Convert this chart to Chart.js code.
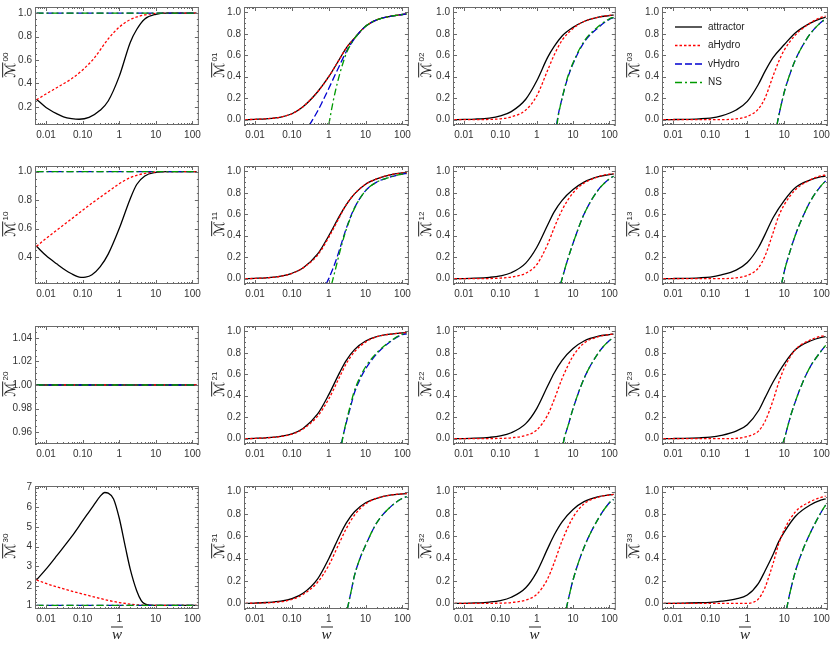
<!DOCTYPE html>
<html><head><meta charset="utf-8">
<script src="https://cdn.jsdelivr.net/npm/chart.js@4.4.1/dist/chart.umd.min.js"></script>
<style>
html,body{margin:0;padding:0;background:#fff}
#wrap{position:relative;width:830px;height:646px;overflow:hidden;background:#fff}
canvas{position:absolute}
.yl{position:absolute;white-space:nowrap;transform:translate(-50%,-50%) rotate(-90deg);font-family:'DejaVu Sans';font-size:14px;color:#222;line-height:1;z-index:5}
.yl .m{display:inline-block;border-top:1px solid #222;font-style:italic;line-height:1.05;padding-top:0}
.yl .s{font-family:'Liberation Sans';font-size:8px;vertical-align:7px;margin-left:1px}
.xl{position:absolute;transform:translate(-50%,-50%);font-family:'Liberation Serif';font-style:italic;font-size:15px;color:#222;z-index:5;line-height:1}
.xl span{display:inline-block;border-top:1px solid #222;padding:0 1px;line-height:0.8}
</style></head><body><div id="wrap"></div>
<script>
// ---------- tick labels ----------
const xTickValues = [0.01, 0.1, 1, 10, 100];
const xTickLabels = ['0.01', '0.10', '1', '10', '100'];
const unitTickValues = [0, 0.2, 0.4, 0.6, 0.8, 1.0];
const unitTickLabels = ['0.0', '0.2', '0.4', '0.6', '0.8', '1.0'];
const m00TickValues = [0.2, 0.4, 0.6, 0.8, 1.0];
const m00TickLabels = ['0.2', '0.4', '0.6', '0.8', '1.0'];
const m10TickValues = [0.4, 0.6, 0.8, 1.0];
const m10TickLabels = ['0.4', '0.6', '0.8', '1.0'];
const m20TickValues = [0.96, 0.98, 1.00, 1.02, 1.04];
const m20TickLabels = ['0.96', '0.98', '1.00', '1.02', '1.04'];
const m30TickValues = [1, 2, 3, 4, 5, 6, 7];
const m30TickLabels = ['1', '2', '3', '4', '5', '6', '7'];
const seriesNames = ['attractor', 'aHydro', 'vHydro', 'NS'];
const xLabel = 'w';

// ---------- data: [w, value] ----------
const flatOne = [[0.0055, 1], [130, 1]];

const M00_attractor = [[0.0055,0.265],[0.01,0.195],[0.02,0.14],[0.03,0.115],[0.05,0.10],[0.08,0.094],[0.15,0.11],[0.3,0.17],[0.5,0.25],[1,0.46],[2,0.75],[3,0.86],[5,0.95],[10,0.99],[20,1.0],[130,1.0]];
const M00_aHydro = [[0.0055,0.26],[0.01,0.31],[0.02,0.365],[0.05,0.44],[0.1,0.515],[0.2,0.61],[0.5,0.78],[1,0.88],[2,0.945],[3,0.967],[5,0.985],[10,0.997],[20,1.0],[130,1.0]];
const M00_vHydro = flatOne;
const M00_NS = flatOne;

const M10_attractor = [[0.0055,0.475],[0.01,0.41],[0.02,0.35],[0.035,0.305],[0.05,0.282],[0.07,0.263],[0.09,0.256],[0.12,0.258],[0.18,0.275],[0.3,0.33],[0.5,0.42],[1,0.60],[2,0.81],[3,0.91],[5,0.97],[10,0.995],[20,1.0],[130,1.0]];
const M10_aHydro = [[0.0055,0.475],[0.01,0.53],[0.02,0.59],[0.05,0.668],[0.1,0.728],[0.2,0.787],[0.5,0.86],[1,0.915],[2,0.958],[3,0.974],[5,0.988],[10,0.998],[20,1.0],[130,1.0]];
const M10_vHydro = flatOne;
const M10_NS = flatOne;

const M20_attractor = flatOne;
const M20_aHydro = flatOne;
const M20_vHydro = flatOne;
const M20_NS = flatOne;

const M30_attractor = [[0.0055,2.3],[0.01,2.85],[0.02,3.55],[0.05,4.5],[0.1,5.3],[0.2,6.1],[0.3,6.55],[0.4,6.75],[0.5,6.72],[0.7,6.42],[1,5.45],[1.5,3.9],[2,2.85],[3,1.75],[4,1.25],[5,1.08],[7,1.01],[10,1.0],[130,1.0]];
const M30_aHydro = [[0.0055,2.3],[0.01,2.12],[0.02,1.94],[0.05,1.73],[0.1,1.58],[0.2,1.44],[0.5,1.26],[1,1.15],[2,1.07],[3,1.035],[5,1.01],[10,1.0],[130,1.0]];
const M30_vHydro = flatOne;
const M30_NS = flatOne;

const M01_attractor = [[0.0055,0.0],[0.01,0.003],[0.02,0.008],[0.05,0.024],[0.1,0.055],[0.2,0.12],[0.5,0.26],[1,0.40],[2,0.57],[3,0.67],[5,0.76],[10,0.87],[20,0.93],[50,0.965],[100,0.98],[130,0.985]];
const M01_aHydro = [[0.0055,0.0],[0.01,0.003],[0.02,0.008],[0.05,0.024],[0.1,0.055],[0.2,0.12],[0.5,0.26],[1,0.40],[2,0.57],[3,0.67],[5,0.76],[10,0.87],[20,0.93],[50,0.965],[100,0.98],[130,0.985]];
const M01_vHydro = [[0.3,-0.05],[0.5,0.08],[0.7,0.18],[1,0.29],[1.5,0.42],[2,0.51],[3,0.635],[5,0.755],[10,0.87],[20,0.93],[50,0.965],[100,0.98],[130,0.985]];
const M01_NS = [[1.0,-0.05],[1.2,0.1],[1.5,0.26],[2,0.43],[2.5,0.54],[3,0.62],[5,0.755],[10,0.87],[20,0.93],[50,0.965],[100,0.98],[130,0.985]];

const M11_attractor = [[0.0055,0.0],[0.01,0.003],[0.02,0.008],[0.05,0.024],[0.1,0.05],[0.2,0.10],[0.5,0.23],[1,0.40],[2,0.59],[3,0.69],[5,0.79],[10,0.88],[20,0.93],[50,0.97],[100,0.985],[130,0.987]];
const M11_aHydro = [[0.0055,0.0],[0.01,0.002],[0.02,0.007],[0.05,0.022],[0.1,0.048],[0.2,0.10],[0.5,0.22],[1,0.385],[2,0.58],[3,0.69],[5,0.79],[10,0.88],[20,0.93],[50,0.97],[100,0.985],[130,0.987]];
const M11_vHydro = [[0.85,-0.05],[1,0.0],[1.5,0.15],[2,0.28],[3,0.47],[5,0.66],[10,0.82],[20,0.9],[50,0.95],[100,0.975],[130,0.98]];
const M11_NS = [[1.2,-0.05],[1.5,0.08],[2,0.25],[3,0.46],[5,0.655],[10,0.82],[20,0.9],[50,0.95],[100,0.975],[130,0.98]];

const M21_attractor = [[0.0055,0.0],[0.01,0.003],[0.02,0.008],[0.05,0.022],[0.1,0.045],[0.2,0.095],[0.5,0.23],[1,0.41],[2,0.62],[3,0.73],[5,0.83],[10,0.91],[20,0.95],[50,0.975],[100,0.985],[130,0.988]];
const M21_aHydro = [[0.0055,0.0],[0.01,0.002],[0.02,0.007],[0.05,0.02],[0.1,0.042],[0.2,0.09],[0.5,0.21],[1,0.37],[2,0.58],[3,0.70],[5,0.81],[10,0.90],[20,0.95],[50,0.975],[100,0.985],[130,0.988]];
const M21_vHydro = [[2.2,-0.05],[2.5,0.04],[3,0.15],[4,0.31],[5,0.43],[7,0.55],[10,0.65],[20,0.79],[50,0.91],[100,0.97],[130,0.975]];
const M21_NS = [[2.25,-0.05],[2.5,0.04],[3,0.16],[4,0.33],[5,0.45],[7,0.57],[10,0.67],[20,0.80],[50,0.915],[100,0.975],[130,0.98]];

const M31_attractor = [[0.0055,0.0],[0.01,0.003],[0.02,0.008],[0.05,0.02],[0.1,0.042],[0.2,0.09],[0.5,0.22],[1,0.40],[2,0.61],[3,0.72],[5,0.82],[10,0.9],[20,0.94],[50,0.97],[100,0.98],[130,0.983]];
const M31_aHydro = [[0.0055,0.0],[0.05,0.015],[0.1,0.035],[0.2,0.08],[0.5,0.19],[1,0.34],[2,0.55],[3,0.67],[5,0.79],[10,0.89],[20,0.94],[50,0.97],[100,0.98],[130,0.983]];
const M31_vHydro = [[3.2,-0.05],[4,0.1],[5,0.25],[7,0.4],[10,0.52],[20,0.72],[50,0.87],[100,0.94],[130,0.955]];
const M31_NS = [[3.2,-0.05],[4,0.1],[5,0.25],[7,0.4],[10,0.52],[20,0.72],[50,0.87],[100,0.94],[130,0.955]];

const M02_attractor = [[0.0055,0.0],[0.01,0.002],[0.02,0.005],[0.05,0.015],[0.1,0.035],[0.2,0.075],[0.5,0.19],[1,0.36],[2,0.58],[3,0.68],[5,0.78],[10,0.86],[20,0.915],[50,0.955],[100,0.97],[130,0.975]];
const M02_aHydro = [[0.0055,0.0],[0.05,0.002],[0.1,0.008],[0.2,0.025],[0.5,0.09],[1,0.22],[2,0.46],[3,0.60],[5,0.74],[10,0.85],[20,0.915],[50,0.955],[100,0.972],[130,0.975]];
const M02_vHydro = [[3.5,-0.05],[4,0.06],[5,0.2],[7,0.38],[10,0.52],[20,0.72],[50,0.86],[100,0.935],[130,0.95]];
const M02_NS = [[3.6,-0.05],[4,0.05],[5,0.2],[7,0.39],[10,0.53],[20,0.73],[50,0.87],[100,0.94],[130,0.955]];

const M12_attractor = [[0.0055,0.0],[0.01,0.001],[0.02,0.004],[0.05,0.012],[0.1,0.025],[0.2,0.055],[0.5,0.145],[1,0.29],[2,0.50],[3,0.62],[5,0.73],[10,0.83],[20,0.9],[50,0.95],[100,0.97],[130,0.975]];
const M12_aHydro = [[0.0055,0.0],[0.05,0.001],[0.1,0.005],[0.2,0.015],[0.5,0.05],[1,0.13],[2,0.32],[3,0.47],[5,0.64],[10,0.80],[20,0.89],[50,0.95],[100,0.975],[130,0.978]];
const M12_vHydro = [[4.5,-0.05],[5,0.0],[7,0.17],[10,0.33],[20,0.6],[50,0.83],[100,0.93],[130,0.955]];
const M12_NS = [[4.6,-0.05],[5,0.0],[7,0.17],[10,0.33],[20,0.6],[50,0.83],[100,0.93],[130,0.955]];

const M22_attractor = [[0.0055,0.0],[0.01,0.001],[0.02,0.004],[0.05,0.012],[0.1,0.025],[0.2,0.055],[0.5,0.14],[1,0.28],[2,0.49],[3,0.61],[5,0.73],[10,0.84],[20,0.91],[50,0.955],[100,0.97],[130,0.975]];
const M22_aHydro = [[0.0055,0.0],[0.1,0.002],[0.2,0.008],[0.5,0.03],[1,0.08],[2,0.22],[3,0.36],[5,0.56],[10,0.77],[20,0.89],[50,0.95],[100,0.97],[130,0.975]];
const M22_vHydro = [[5.3,-0.05],[6,0.03],[7,0.1],[10,0.28],[20,0.56],[50,0.8],[100,0.915],[130,0.94]];
const M22_NS = [[5.3,-0.05],[6,0.03],[7,0.1],[10,0.28],[20,0.56],[50,0.8],[100,0.915],[130,0.94]];

const M32_attractor = [[0.0055,0.0],[0.01,0.001],[0.02,0.004],[0.05,0.012],[0.1,0.025],[0.2,0.055],[0.5,0.14],[1,0.28],[2,0.49],[3,0.61],[5,0.73],[10,0.84],[20,0.91],[50,0.955],[100,0.97],[130,0.975]];
const M32_aHydro = [[0.0055,0.0],[0.1,0.002],[0.2,0.008],[0.5,0.03],[1,0.08],[2,0.22],[3,0.36],[5,0.56],[10,0.77],[20,0.89],[50,0.95],[100,0.97],[130,0.975]];
const M32_vHydro = [[6.5,-0.05],[7,0.0],[10,0.21],[20,0.5],[50,0.76],[100,0.9],[130,0.93]];
const M32_NS = [[6.5,-0.05],[7,0.0],[10,0.21],[20,0.5],[50,0.76],[100,0.9],[130,0.93]];

const M03_attractor = [[0.0055,0.0],[0.01,0.001],[0.02,0.003],[0.05,0.008],[0.1,0.015],[0.2,0.035],[0.5,0.09],[1,0.17],[2,0.33],[3,0.45],[5,0.58],[10,0.70],[20,0.81],[50,0.9],[100,0.945],[130,0.955]];
const M03_aHydro = [[0.0055,0.0],[0.2,0.0],[0.5,0.008],[1,0.03],[2,0.10],[3,0.20],[5,0.41],[7,0.54],[10,0.65],[20,0.79],[50,0.9],[100,0.955],[130,0.965]];
const M03_vHydro = [[6.3,-0.05],[7,0.03],[8,0.12],[10,0.26],[15,0.45],[20,0.56],[30,0.68],[50,0.8],[100,0.91],[130,0.935]];
const M03_NS = [[6.3,-0.05],[7,0.03],[8,0.12],[10,0.26],[15,0.45],[20,0.56],[30,0.68],[50,0.8],[100,0.91],[130,0.935]];

const M13_attractor = [[0.0055,0.0],[0.01,0.001],[0.02,0.003],[0.05,0.008],[0.1,0.015],[0.2,0.035],[0.5,0.08],[1,0.15],[2,0.29],[3,0.41],[5,0.57],[10,0.73],[20,0.85],[50,0.92],[100,0.95],[130,0.955]];
const M13_aHydro = [[0.0055,0.0],[0.2,0.0],[0.5,0.008],[1,0.03],[2,0.10],[3,0.21],[5,0.43],[7,0.58],[10,0.69],[20,0.83],[50,0.92],[100,0.96],[130,0.965]];
const M13_vHydro = [[8.4,-0.05],[10,0.07],[15,0.28],[20,0.41],[30,0.56],[50,0.72],[100,0.87],[130,0.91]];
const M13_NS = [[8.4,-0.05],[10,0.07],[15,0.28],[20,0.41],[30,0.56],[50,0.72],[100,0.87],[130,0.91]];

const M23_attractor = [[0.0055,0.0],[0.01,0.001],[0.02,0.003],[0.05,0.008],[0.1,0.014],[0.2,0.03],[0.5,0.07],[1,0.13],[2,0.26],[3,0.38],[5,0.53],[10,0.70],[20,0.83],[50,0.91],[100,0.945],[130,0.95]];
const M23_aHydro = [[0.0055,0.0],[0.3,0.0],[1,0.02],[2,0.07],[3,0.16],[5,0.36],[7,0.52],[10,0.66],[20,0.83],[50,0.92],[100,0.955],[130,0.96]];
const M23_vHydro = [[9,-0.05],[10,0.0],[15,0.22],[20,0.35],[30,0.51],[50,0.67],[100,0.82],[130,0.87]];
const M23_NS = [[9,-0.05],[10,0.0],[15,0.22],[20,0.35],[30,0.51],[50,0.67],[100,0.82],[130,0.87]];

const M33_attractor = [[0.0055,0.0],[0.01,0.001],[0.02,0.003],[0.05,0.006],[0.1,0.01],[0.2,0.02],[0.5,0.04],[1,0.075],[2,0.18],[3,0.29],[5,0.44],[7,0.55],[10,0.64],[20,0.78],[50,0.88],[100,0.925],[130,0.935]];
const M33_aHydro = [[0.0055,0.0],[1,0.0],[1.5,0.012],[2,0.04],[3,0.14],[4,0.26],[5,0.36],[7,0.53],[10,0.66],[20,0.82],[50,0.91],[100,0.95],[130,0.96]];
const M33_vHydro = [[11.5,-0.05],[13,0.04],[15,0.13],[20,0.29],[30,0.46],[50,0.63],[100,0.82],[130,0.88]];
const M33_NS = [[11.5,-0.05],[13,0.04],[15,0.13],[20,0.29],[30,0.46],[50,0.63],[100,0.82],[130,0.88]];

// ---------- layout (page pixels of plot frames) ----------
const COLS = [[35,199],[244,409],[453,616],[662,828]];
const ROWS = [[4,125],[163,284],[323,444],[483,609]];
const YLABEL_X = [10, 219, 426, 634];

const STYLE = {
  attractor: {color:'#000000', dash:[], width:1.3, order:4},
  aHydro:    {color:'#ff0000', dash:[2.5,2], width:1.3, order:3},
  vHydro:    {color:'#0000d0', dash:[7,3], width:1.3, order:2},
  NS:        {color:'#009a00', dash:[7,3,2,3], width:1.3, order:1}
};

const panelData = {
  '00':[M00_attractor,M00_aHydro,M00_vHydro,M00_NS], '01':[M01_attractor,M01_aHydro,M01_vHydro,M01_NS],
  '02':[M02_attractor,M02_aHydro,M02_vHydro,M02_NS], '03':[M03_attractor,M03_aHydro,M03_vHydro,M03_NS],
  '10':[M10_attractor,M10_aHydro,M10_vHydro,M10_NS], '11':[M11_attractor,M11_aHydro,M11_vHydro,M11_NS],
  '12':[M12_attractor,M12_aHydro,M12_vHydro,M12_NS], '13':[M13_attractor,M13_aHydro,M13_vHydro,M13_NS],
  '20':[M20_attractor,M20_aHydro,M20_vHydro,M20_NS], '21':[M21_attractor,M21_aHydro,M21_vHydro,M21_NS],
  '22':[M22_attractor,M22_aHydro,M22_vHydro,M22_NS], '23':[M23_attractor,M23_aHydro,M23_vHydro,M23_NS],
  '30':[M30_attractor,M30_aHydro,M30_vHydro,M30_NS], '31':[M31_attractor,M31_aHydro,M31_vHydro,M31_NS],
  '32':[M32_attractor,M32_aHydro,M32_vHydro,M32_NS], '33':[M33_attractor,M33_aHydro,M33_vHydro,M33_NS]
};

function yConfig(r, c){
  if (c > 0) return {min:-0.05, max:1.05, ticks:unitTickValues, labels:unitTickLabels, minor:0.05};
  if (r === 0) return {min:0.045, max:1.052, ticks:m00TickValues, labels:m00TickLabels, minor:0.05};
  if (r === 1) return {min:0.21, max:1.04, ticks:m10TickValues, labels:m10TickLabels, minor:0.05};
  if (r === 2) return {min:0.95, max:1.05, ticks:m20TickValues, labels:m20TickLabels, minor:0.005};
  return {min:0.82, max:7.08, ticks:m30TickValues, labels:m30TickLabels, minor:0.2};
}

const FRAME = '#6a6a6a';
const framePlugin = {
  id:'frame',
  afterDatasetsDraw(chart){
    const {ctx, chartArea:a, scales:{x, y}} = chart;
    const o = chart.options.plugins.frame;
    ctx.save();
    ctx.strokeStyle = FRAME; ctx.lineWidth = 1;
    ctx.strokeRect(a.left+0.5, a.top+0.5, a.right-a.left-1, a.bottom-a.top-1);
    ctx.beginPath();
    for (let e=-3; e<=2; e++) for (let k=1; k<=9; k++) {
      const v = k*Math.pow(10,e);
      if (v < x.min || v > x.max) continue;
      const px = Math.round(x.getPixelForValue(v))+0.5;
      const len = k===1 ? 4 : 2;
      ctx.moveTo(px, a.bottom); ctx.lineTo(px, a.bottom-len);
      ctx.moveTo(px, a.top); ctx.lineTo(px, a.top+len);
    }
    const step = o.yTicks[1]-o.yTicks[0];
    const start = Math.ceil((y.min - o.yTicks[0])/o.minor - 1e-9);
    for (let i=start; ; i++) {
      const v = o.yTicks[0] + i*o.minor;
      if (v > y.max + 1e-9) break;
      const rel = (v - o.yTicks[0])/step;
      const major = Math.abs(rel - Math.round(rel)) < 1e-6;
      const py = Math.round(y.getPixelForValue(v))+0.5;
      const len = major ? 4 : 2;
      ctx.moveTo(a.left, py); ctx.lineTo(a.left+len, py);
      ctx.moveTo(a.right, py); ctx.lineTo(a.right-len, py);
    }
    ctx.stroke();
    if (o.legend) {
      const rows = [20, 38.5, 57, 75.5];
      seriesNames.forEach((n, i) => {
        const s = STYLE[n];
        const yy = a.top + rows[i];
        ctx.beginPath();
        ctx.strokeStyle = s.color; ctx.lineWidth = s.width; ctx.setLineDash(s.dash);
        ctx.moveTo(a.left+13, yy); ctx.lineTo(a.left+40, yy); ctx.stroke();
        ctx.setLineDash([]);
        ctx.fillStyle = '#222'; ctx.font = "10px 'Liberation Sans', Arial, sans-serif";
        ctx.textBaseline = 'middle'; ctx.textAlign = 'left';
        ctx.fillText(n, a.left+46, yy);
      });
    }
    ctx.restore();
  }
};

const wrap = document.getElementById('wrap');
const PADL=40, PADT=6, PADR=6, PADB=24;

for (let r=0; r<4; r++) for (let c=0; c<4; c++) {
  const id = ''+r+c;
  const [L,R] = COLS[c], [T,B] = ROWS[r];
  const W = R-L+PADL+PADR, H = B-T+PADT+PADB;
  const cv = document.createElement('canvas');
  cv.width = W; cv.height = H;
  cv.style.left = (L-PADL)+'px'; cv.style.top = (T-PADT)+'px';
  cv.style.width = W+'px'; cv.style.height = H+'px';
  wrap.appendChild(cv);
  const yc = yConfig(r, c);
  const datasets = seriesNames.map((n, i) => ({
    label: n,
    data: panelData[id][i].map(p => ({x:p[0], y:p[1]})),
    borderColor: STYLE[n].color, borderWidth: STYLE[n].width, borderDash: STYLE[n].dash,
    pointRadius: 0, fill: false, cubicInterpolationMode: 'monotone', order: STYLE[n].order
  }));
  new Chart(cv, {
    type: 'line',
    data: {datasets},
    options: {
      responsive:false, animation:false, devicePixelRatio:1,
      layout:{padding:{left:0, top:PADT, right:PADR, bottom:0}},
      plugins:{legend:{display:false}, tooltip:{enabled:false},
        frame:{yTicks:yc.ticks, minor:yc.minor, legend: id==='03'}},
      scales:{
        x:{type:'logarithmic', min:0.005, max:150,
          grid:{display:false, drawTicks:false}, border:{display:false},
          afterBuildTicks: s => { s.ticks = xTickValues.map(v => ({value:v})); },
          afterFit: s => { s.height = PADB; },
          ticks:{autoSkip:false, maxRotation:0, minRotation:0, padding:4, color:'#333',
            font:{family:"'Liberation Sans', Arial, sans-serif", size:10},
            callback:(v, i) => xTickLabels[i]}
        },
        y:{type:'linear', min:yc.min, max:yc.max,
          grid:{display:false, drawTicks:false}, border:{display:false},
          afterBuildTicks: s => { s.ticks = yc.ticks.map(v => ({value:v})); },
          afterFit: s => { s.width = PADL; },
          ticks:{autoSkip:false, padding:3, color:'#333',
            font:{family:"'Liberation Sans', Arial, sans-serif", size:10},
            callback:(v, i) => yc.labels[i]}
        }
      }
    },
    plugins:[framePlugin]
  });
  const yl = document.createElement('div');
  yl.className = 'yl';
  yl.style.left = YLABEL_X[c]+'px'; yl.style.top = ((T+B)/2)+'px';
  yl.innerHTML = '<span class="m">\u2133</span><span class="s">'+id+'</span>';
  wrap.appendChild(yl);
  if (r === 3) {
    const xl = document.createElement('div');
    xl.className = 'xl';
    xl.style.left = ((L+R)/2)+'px'; xl.style.top = '634px';
    xl.innerHTML = '<span>'+xLabel+'</span>';
    wrap.appendChild(xl);
  }
}
</script></body></html>
